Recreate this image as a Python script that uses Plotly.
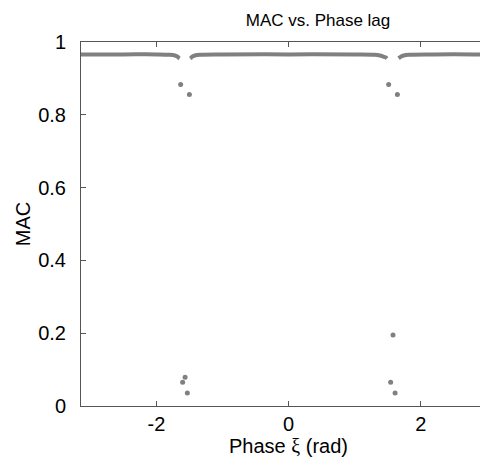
import plotly.graph_objects as go

# Continuous band of MAC values (three branches separated by gaps near ±π/2)
band1_x = [-3.1416, -2.5, -2.0, -1.80, -1.72, -1.68, -1.665, -1.649]
band1_y = [0.966, 0.966, 0.966, 0.965, 0.963, 0.960, 0.957, 0.955]
band2_x = [-1.490, -1.476, -1.46, -1.42, -1.34, -1.0, 0.0, 1.0, 1.30, 1.38, 1.43, 1.475, 1.489]
band2_y = [0.955, 0.957, 0.960, 0.963, 0.965, 0.966, 0.966, 0.966, 0.965, 0.963, 0.960, 0.957, 0.955]
band3_x = [1.664, 1.678, 1.70, 1.74, 1.82, 2.2, 2.8, 3.1416]
band3_y = [0.955, 0.957, 0.960, 0.963, 0.965, 0.966, 0.966, 0.966]

# Isolated points
pts_x = [-1.634, -1.502, 1.513, 1.645, -1.567, -1.604, -1.533, 1.579, 1.543, 1.610]
pts_y = [0.883, 0.856, 0.883, 0.856, 0.079, 0.065, 0.036, 0.195, 0.065, 0.036]

x_ticks = [-2, 0, 2]
x_tick_labels = ["-2", "0", "2"]
y_ticks = [0, 0.2, 0.4, 0.6, 0.8, 1]
y_tick_labels = ["0", "0.2", "0.4", "0.6", "0.8", "1"]

GRAY = "#808080"
AX = "#555555"
FONT = "Liberation Sans, Arial, sans-serif"

fig = go.Figure()
for bx, by in [(band1_x, band1_y), (band2_x, band2_y), (band3_x, band3_y)]:
    fig.add_trace(go.Scatter(x=bx, y=by, mode="lines",
                             line=dict(color=GRAY, width=4, shape="spline"),
                             hoverinfo="skip", showlegend=False))
fig.add_trace(go.Scatter(x=pts_x, y=pts_y, mode="markers",
                         marker=dict(color=GRAY, size=5), showlegend=False))

W, H = 488, 464
OFF = 8  # page body margin
L, R, T, B = 81 - OFF, 0, 42 - OFF, H - (406 - OFF)
px_per_unit = 66.1
x0 = -3.1416
x1 = x0 + (W - L - R) / px_per_unit

fig.update_layout(
    width=W, height=H,
    margin=dict(l=L, r=R, t=T, b=B),
    paper_bgcolor="white", plot_bgcolor="white",
    font=dict(family=FONT, color="black", size=20),
    title=dict(text="MAC vs. Phase lag", x=(318 - OFF - L) / (W - L - R), xref="paper",
               xanchor="center", y=1 - 12 / H, yref="container", yanchor="middle",
               font=dict(size=17, family=FONT, color="black")),
    xaxis=dict(range=[x0, x1], tickvals=x_ticks, ticktext=x_tick_labels,
               ticks="inside", ticklen=5, tickcolor=AX, showline=True, linecolor=AX,
               linewidth=1, mirror="allticks", showgrid=False, zeroline=False,
               tickfont=dict(size=20),
               title=dict(text="Phase <span style='font-family:Liberation Serif'>ξ</span> (rad)",
                          font=dict(size=20), standoff=4)),
    yaxis=dict(range=[0, 1], tickvals=y_ticks, ticktext=y_tick_labels,
               ticks="inside", ticklen=5, tickcolor=AX, showline=True, linecolor=AX,
               linewidth=1, mirror=False, showgrid=False, zeroline=False,
               tickfont=dict(size=20), ticklabelstandoff=10,
               title=dict(text="MAC", font=dict(size=20), standoff=2)),
)

fig.write_html("out.html")
